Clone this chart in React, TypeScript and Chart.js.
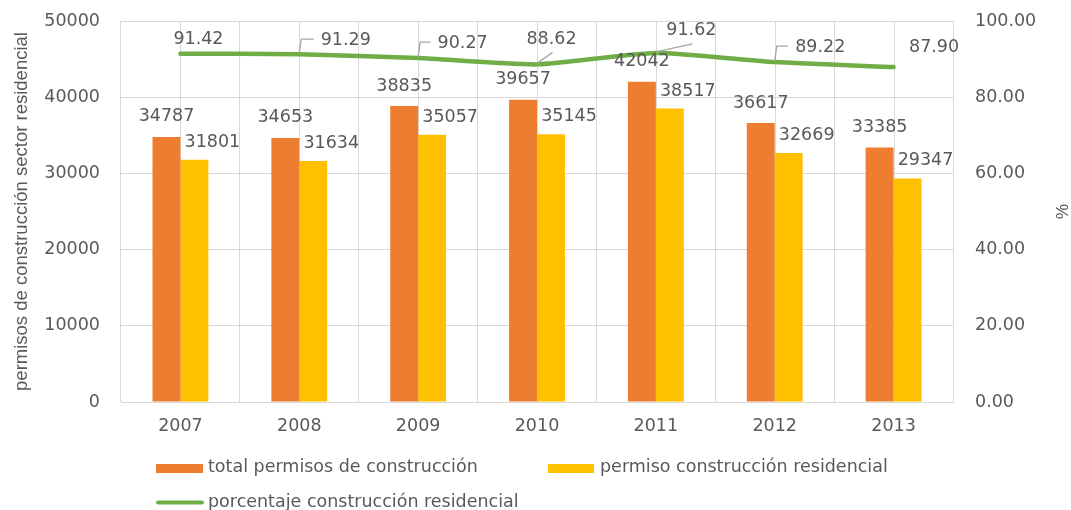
import React, { useEffect, useRef } from "react";
import { Chart, registerables } from "chart.js";

Chart.register(...registerables);

const categories = ["2007", "2008", "2009", "2010", "2011", "2012", "2013"];
const totalPermits = [34787, 34653, 38835, 39657, 42042, 36617, 33385];
const residentialPermits = [31801, 31634, 35057, 35145, 38517, 32669, 29347];
const residentialPct = [91.42, 91.29, 90.27, 88.62, 91.62, 89.22, 87.9];

const leftTicksMax = 50000;
const rightTicksMax = 100;

const seriesNames = [
  "total permisos de construcción",
  "permiso construcción residencial",
  "porcentaje construcción residencial",
];
const leftTitle = "permisos de construcción sector residencial";
const rightTitle = "%";

const ORANGE = "#ED7D31";
const YELLOW = "#FFC000";
const GREEN = "#70AD47";
const TEXT = "#595959";
const GRID = "#D9D9D9";
const LEADER = "#A6A6A6";
const FONT_FAMILY = "'DejaVu Sans', sans-serif";
const FONT_SIZE = 17.5;

// label placement style (relative to each line point): dx, dy, leader kind
const lineLabelPlacement = [
  { dx: 18, dy: -14, leader: "none" },
  { dx: 46.5, dy: -14, leader: "elbow" },
  { dx: 44.5, dy: -15, leader: "elbow" },
  { dx: 14.5, dy: -25, leader: "diag" },
  { dx: 35.5, dy: -22, leader: "diag" },
  { dx: 45.5, dy: -15, leader: "elbow" },
  { dx: 40.5, dy: -20, leader: "none" },
];

const customPlugin = {
  id: "customDecor",
  beforeDatasetsDraw(chart: any) {
    const { ctx, chartArea } = chart;
    const xs = chart.scales.x;
    ctx.save();
    ctx.strokeStyle = GRID;
    ctx.lineWidth = 1;
    for (let i = 0; i < categories.length; i++) {
      const x = Math.round(xs.getPixelForValue(i)) + 0.5;
      ctx.beginPath();
      ctx.moveTo(x, chartArea.top);
      ctx.lineTo(x, chartArea.bottom);
      ctx.stroke();
    }
    ctx.restore();
  },
  afterDatasetsDraw(chart: any) {
    const { ctx } = chart;
    ctx.save();
    ctx.font = `${FONT_SIZE}px ${FONT_FAMILY}`;
    ctx.fillStyle = TEXT;
    ctx.textBaseline = "middle";
    ctx.textAlign = "center";
    const m0 = chart.getDatasetMeta(0);
    const m1 = chart.getDatasetMeta(1);
    const m2 = chart.getDatasetMeta(2);
    m0.data.forEach((bar: any, i: number) => {
      ctx.fillText(String(totalPermits[i]), bar.x, bar.y - 20);
    });
    m1.data.forEach((bar: any, i: number) => {
      ctx.fillText(String(residentialPermits[i]), bar.x + 18, bar.y - 17.5);
    });
    m2.data.forEach((pt: any, i: number) => {
      const p = lineLabelPlacement[i];
      const lx = pt.x + p.dx;
      const ly = pt.y + p.dy;
      const text = residentialPct[i].toFixed(2);
      const w = ctx.measureText(text).width;
      if (p.leader !== "none") {
        ctx.strokeStyle = LEADER;
        ctx.lineWidth = 1.3;
        ctx.beginPath();
        if (p.leader === "elbow") {
          ctx.moveTo(pt.x, pt.y - 1);
          ctx.lineTo(pt.x + 2, ly - 1);
          ctx.lineTo(lx - w / 2 - 7, ly - 1);
        } else {
          ctx.moveTo(pt.x, pt.y - 1);
          ctx.lineTo(lx + 1, ly + 13);
        }
        ctx.stroke();
      }
      ctx.fillText(text, lx, ly);
    });
    ctx.restore();
  },
  afterDraw(chart: any) {
    const { ctx } = chart;
    ctx.save();
    ctx.font = `${FONT_SIZE}px ${FONT_FAMILY}`;
    ctx.fillStyle = TEXT;
    ctx.textBaseline = "middle";
    ctx.textAlign = "left";
    // row 1
    ctx.fillStyle = ORANGE;
    ctx.fillRect(156, 464, 47, 9);
    ctx.fillStyle = TEXT;
    ctx.fillText(seriesNames[0], 208, 467);
    ctx.fillStyle = YELLOW;
    ctx.fillRect(548, 464, 46, 9);
    ctx.fillStyle = TEXT;
    ctx.fillText(seriesNames[1], 600, 467);
    // row 2
    ctx.strokeStyle = GREEN;
    ctx.lineWidth = 4;
    ctx.lineCap = "round";
    ctx.beginPath();
    ctx.moveTo(158, 502.5);
    ctx.lineTo(202, 502.5);
    ctx.stroke();
    ctx.fillText(seriesNames[2], 208, 502);
    ctx.restore();
  },
};

export default function App() {
  const canvasRef = useRef<HTMLCanvasElement | null>(null);

  useEffect(() => {
    document.body.style.margin = "0";
    const canvas = canvasRef.current;
    if (!canvas) return;
    const font = { family: FONT_FAMILY, size: FONT_SIZE };
    const chart = new Chart(canvas, {
      type: "bar",
      data: {
        labels: categories,
        datasets: [
          {
            type: "bar",
            label: seriesNames[0],
            data: totalPermits,
            backgroundColor: ORANGE,
            borderWidth: 0,
            barPercentage: 1,
            categoryPercentage: 0.47,
            yAxisID: "y",
            order: 2,
          },
          {
            type: "bar",
            label: seriesNames[1],
            data: residentialPermits,
            backgroundColor: YELLOW,
            borderWidth: 0,
            barPercentage: 1,
            categoryPercentage: 0.47,
            yAxisID: "y",
            order: 2,
          },
          {
            type: "line",
            label: seriesNames[2],
            data: residentialPct,
            borderColor: GREEN,
            backgroundColor: GREEN,
            borderWidth: 4.5,
            borderCapStyle: "round",
            pointRadius: 0,
            pointHoverRadius: 0,
            tension: 0.2,
            yAxisID: "y1",
            order: 0,
          },
        ] as any,
      },
      options: {
        animation: false,
        responsive: true,
        maintainAspectRatio: false,
        layout: { padding: { top: 21, left: 0, right: 0, bottom: 0 } },
        plugins: {
          legend: { display: false },
          tooltip: { enabled: false },
        },
        scales: {
          x: {
            type: "category",
            offset: true,
            grid: { offset: true, color: GRID, drawTicks: false },
            border: { color: GRID, width: 1 },
            ticks: { color: TEXT, font, padding: 14 },
            afterFit: (s: any) => {
              s.height = 108;
              s.paddingLeft = 0;
              s.paddingRight = 0;
            },
          },
          y: {
            type: "linear",
            position: "left",
            min: 0,
            max: leftTicksMax,
            ticks: {
              stepSize: 10000,
              color: TEXT,
              font,
              padding: 21,
              callback: (v: any) => String(v),
            },
            grid: { color: GRID, drawTicks: false },
            border: { display: false },
            title: {
              display: true,
              text: leftTitle,
              color: TEXT,
              font: { family: "'Liberation Sans', sans-serif", size: 18.5 },
              padding: { top: 11, bottom: 0 },
            },
            afterFit: (s: any) => {
              s.width = 121;
              s.paddingTop = 0;
              s.paddingBottom = 0;
            },
          },
          y1: {
            type: "linear",
            position: "right",
            min: 0,
            max: rightTicksMax,
            ticks: {
              stepSize: 20,
              color: TEXT,
              font,
              padding: 22,
              callback: (v: any) => Number(v).toFixed(2),
            },
            grid: { drawOnChartArea: false, drawTicks: false },
            border: { display: false },
            title: {
              display: true,
              text: rightTitle,
              color: TEXT,
              font: { family: "'Liberation Sans', sans-serif", size: 17 },
              padding: { top: 0, bottom: 0 },
            },
            afterFit: (s: any) => {
              s.width = 118;
              s.paddingTop = 0;
              s.paddingBottom = 0;
            },
          },
        },
      } as any,
      plugins: [customPlugin],
    });
    return () => chart.destroy();
  }, []);

  return (
    <div style={{ position: "absolute", left: 0, top: 0, width: 1071, height: 510, background: "#fff" }}>
      <canvas ref={canvasRef} />
    </div>
  );
}
